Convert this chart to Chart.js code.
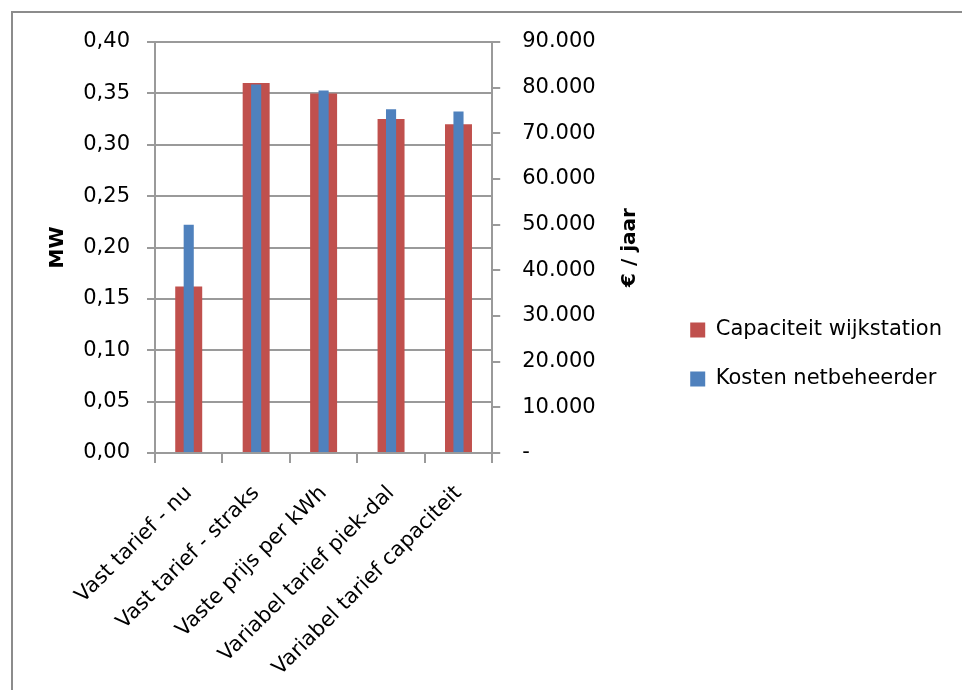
<!DOCTYPE html>
<html>
<head>
<meta charset="utf-8">
<script src="https://cdn.jsdelivr.net/npm/chart.js@4.4.1/dist/chart.umd.min.js"></script>
<style>
  html, body { margin: 0; padding: 0; background: #fff; overflow: hidden; }
  #frame { position: absolute; left: 11px; top: 11px; width: 1000px; height: 1000px; border: 2px solid #8c8c8c; }
  #wrap { position: absolute; left: 0; top: 0; width: 962px; height: 690px; }
</style>
</head>
<body>
<div id="frame"></div>
<div id="wrap"><canvas id="chart"></canvas></div>
<script>
// data
const categories = ["Vast tarief - nu", "Vast tarief - straks", "Vaste prijs per kWh", "Variabel tarief piek-dal", "Variabel tarief capaciteit"];
const capaciteitMW = [0.162, 0.36, 0.35, 0.325, 0.32];
const kostenEuro = [50000, 80700, 79400, 75300, 74800];
const seriesNames = ["Capaciteit wijkstation", "Kosten netbeheerder"];

// axis ranges
const mwMax = 0.4, mwStep = 0.05;
const euroMax = 90000, euroStep = 10000;
const leftTitle = "MW";
const rightTitle = "€ / jaar";

const GRID = "#9a9a9a";
Chart.defaults.font.family = "'DejaVu Sans', sans-serif";
Chart.defaults.color = "#000";

const fmtMW = v => v.toFixed(2).replace(".", ",");
const fmtEuro = v => v === 0 ? "-" : String(Math.round(v)).replace(/\B(?=(\d{3})+(?!\d))/g, ".");

// right axis title reads bottom-to-top, chart.js draws it the other way
const rightTitlePlugin = {
  id: "rightTitle",
  afterDraw(chart) {
    const s = chart.scales.y2;
    const ctx = chart.ctx;
    ctx.save();
    ctx.translate(s.left + 138, (s.top + s.bottom) / 2);
    ctx.rotate(-Math.PI / 2);
    ctx.font = "bold 20px 'DejaVu Sans', sans-serif";
    ctx.fillStyle = "#000";
    ctx.textAlign = "center";
    ctx.textBaseline = "middle";
    ctx.fillText(rightTitle, 0, 0);
    ctx.restore();
  }
};

new Chart(document.getElementById("chart"), {
  type: "bar",
  data: {
    labels: categories,
    datasets: [
      { label: seriesNames[0], data: capaciteitMW, yAxisID: "y", backgroundColor: "#C0504D", borderWidth: 0,
        barPercentage: 0.4, categoryPercentage: 1, grouped: false, order: 1 },
      { label: seriesNames[1], data: kostenEuro, yAxisID: "y2", backgroundColor: "#4F81BD", borderWidth: 0,
        barPercentage: 0.15, categoryPercentage: 1, grouped: false, order: 0 }
    ]
  },
  options: {
    responsive: true,
    maintainAspectRatio: false,
    animation: false,
    layout: { padding: { top: 19, right: 10, bottom: 0, left: 0 } },
    plugins: {
      // empty title only reserves the space above the plot
      title: { display: true, text: "", font: { size: 10, lineHeight: 1 }, padding: { top: 0, bottom: 13 } },
      tooltip: { enabled: false },
      legend: {
        position: "right",
        align: "center",
        maxWidth: 320,
        labels: {
          boxWidth: 15, boxHeight: 15, padding: 28, font: { size: 21 }, color: "#000",
          sort: (a, b) => a.datasetIndex - b.datasetIndex
        }
      }
    },
    scales: {
      x: {
        ticks: { minRotation: 45, maxRotation: 45, autoSkip: false, font: { size: 21 }, padding: 18 },
        grid: { offset: true, drawOnChartArea: false, tickLength: 10, color: GRID, lineWidth: 2 },
        border: { color: GRID, width: 2 },
        afterFit: s => { s.height = 237; }
      },
      y: {
        position: "left",
        min: 0, max: mwMax,
        ticks: { stepSize: mwStep, padding: 17, font: { size: 21 }, callback: fmtMW },
        grid: { color: GRID, tickLength: 8, lineWidth: 2 },
        border: { color: GRID, width: 2 },
        title: { display: true, text: leftTitle, font: { size: 20, weight: "bold" }, padding: { top: 46, bottom: 0 } },
        afterFit: s => { s.width = 155; }
      },
      y2: {
        position: "right",
        min: 0, max: euroMax,
        ticks: { stepSize: euroStep, padding: 22, font: { size: 21 }, callback: fmtEuro },
        grid: { drawOnChartArea: false, tickLength: 8, color: GRID, lineWidth: 2 },
        border: { color: GRID, width: 2 },
        afterFit: s => { s.width = 170; }
      }
    }
  },
  plugins: [rightTitlePlugin]
});
</script>
</body>
</html>
